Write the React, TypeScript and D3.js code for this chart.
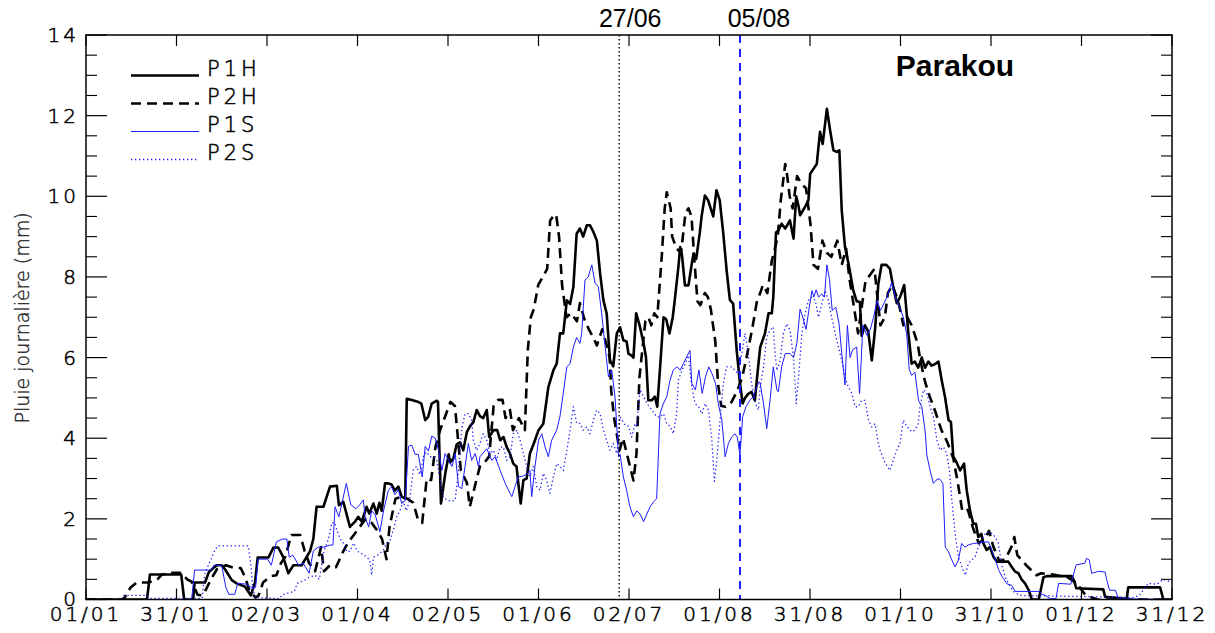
import React from "react";
import * as d3 from "d3";

// Daily rainfall climatology for Parakou, four periods (day of year, mm/day)
const P1H: [number, number][] = [
  [0,0],[20.5,0],[21.5,0.62],[32,0.62],[33,0],[36,0],[36.5,0.42],[40,0.42],[41.3,0.68],[43.9,0.85],[45.6,0.85],[46.7,0.75],[49,0.48],[50.6,0.4],[53.4,0.32],[55.4,0.1],[56.8,0.42],[57.7,1.04],[61.3,1.04],[63,1.29],[64.6,1.29],[66.3,1.05],[68,0.65],[69.7,0.85],[72.5,0.85],[75.3,1.2],[76.4,1.5],[77.5,2.3],[79.8,2.3],[82,2.8],[84.3,2.82],[85,2.34],[86.5,2.42],[88.7,1.8],[90.4,1.93],[91.5,2.05],[92.7,1.93],[94.3,2.3],[95.2,2.13],[96.6,2.38],[97.7,2.13],[98.6,2.4],[99.4,2.2],[100.5,2.88],[101.6,2.88],[102.7,2.85],[103.8,2.7],[105,2.8],[106.1,2.55],[107.3,2.5],[107.8,4.98],[109.5,4.95],[111.7,4.9],[112.7,4.86],[114,4.45],[115,4.53],[116.2,4.86],[117.9,4.93],[118.3,4.9],[119.3,2.38],[120.7,3.1],[121.9,3.6],[122.4,3.4],[123.5,3.5],[124.6,3.85],[125.7,3.9],[126.8,3.7],[128,4.15],[129.1,4.3],[130.2,4.4],[131.3,4.7],[132.4,4.55],[133.5,4.5],[134.7,4.7],[135.5,4.03],[137,4.2],[138.2,4.2],[139.2,3.95],[140.3,4.03],[141.4,3.78],[142.5,3.62],[143.6,3.37],[144.7,3.3],[145.3,2.88],[146.1,2.38],[147,2.96],[148.1,3.0],[149.2,3.62],[150.5,3.87],[152.1,4.2],[153.7,4.36],[155.4,5.27],[157.1,5.69],[158.2,5.85],[159.3,6.6],[160.4,6.6],[161.6,7.42],[162.7,7.33],[163.8,7.75],[164.9,9.07],[166,9.2],[167.1,9.0],[168.3,9.28],[169.4,9.28],[170.5,9.12],[171.7,8.9],[172.8,8.08],[173.9,7.42],[175,7.09],[176.1,5.94],[177.2,5.78],[178.4,6.6],[179.5,6.75],[180.6,6.43],[181.7,6.4],[182.3,6.1],[183.4,6.05],[184,6.0],[184.9,7.1],[186.2,6.76],[187.4,6.35],[188.2,6.02],[189,4.94],[190.1,4.94],[191.2,5.03],[192,4.78],[193.2,6.02],[194.1,7.0],[195,6.95],[196.1,6.6],[197.2,7.0],[198,7.5],[199.1,8.25],[199.7,8.74],[200.3,8.55],[201.3,7.79],[202.5,7.79],[203.6,8.33],[204.2,8.58],[205.1,8.45],[206.3,9.1],[206.9,9.5],[208,10.02],[209.1,9.9],[210.8,9.5],[211.9,10.15],[213,9.9],[214.2,9.07],[215.3,8.17],[216.4,7.43],[217.5,7.34],[218.7,6.18],[219.8,5.36],[220.7,4.86],[221.5,5.0],[222.6,5.1],[223.7,5.15],[224.8,4.94],[225.9,5.77],[226.6,6.26],[228.2,6.6],[229.4,7.1],[230.5,7.1],[231,7.5],[231.9,9.1],[232.7,9.15],[233.8,9.32],[235,9.2],[236.6,9.4],[237.8,8.95],[238.7,10.0],[239.5,9.75],[240,9.53],[241.7,9.74],[242.8,9.9],[243.4,10.56],[244.5,10.68],[245.6,10.8],[246.7,11.6],[247.6,11.3],[249,12.17],[250.1,11.63],[251.2,11.14],[252.3,11.1],[253.2,11.14],[254,9.65],[255.1,8.74],[256.3,8.32],[257.9,7.66],[259,7.4],[260.1,7.38],[260.7,6.54],[261.8,6.8],[262.9,6.65],[264.1,5.93],[265.2,6.7],[266.3,7.83],[267.4,8.3],[269,8.3],[270.2,8.2],[271.3,7.75],[272.5,7.35],[273.6,7.5],[275,7.8],[276.4,6.6],[277.5,5.85],[278.6,5.9],[279.7,5.75],[280.9,6.0],[282,5.75],[283.1,5.9],[284.2,5.8],[285.4,5.84],[286.5,5.9],[287.6,5.44],[288.7,5.03],[289.9,4.45],[290.7,4.4],[291.5,3.54],[292.6,3.4],[293.8,3.2],[295.1,3.37],[296,2.71],[297.1,2.21],[298.2,1.88],[299.1,1.88],[299.9,1.55],[300.9,1.63],[301.6,1.39],[302.7,1.23],[303.8,1.3],[305,1.06],[306.1,0.94],[310,0.94],[311.1,0.81],[312.3,0.69],[313.4,0.65],[314.5,0.49],[315.6,0.4],[316.8,0.24],[317.9,0],[320.2,0],[321.8,0.55],[322.9,0.58],[331.3,0.58],[332.2,0.45],[332.8,0.28],[341.9,0.25],[342.5,0.07],[349.8,0.02],[350.3,0.3],[361,0.3],[362.1,0],[365,0],
];

const P2H: [number, number][] = [
  [0,0],[12,0],[13,0.05],[15,0.3],[17,0.42],[21,0.42],[24,0.5],[25.5,0.62],[29,0.66],[32,0.66],[34,0.5],[35.5,0.44],[37.5,0.12],[39,0.1],[40,0.2],[42,0.5],[44,0.75],[47,0.85],[50,0.78],[52,0.78],[53.5,0.55],[55,0.2],[57,0.05],[58,0.1],[59.5,0.42],[62,0.58],[64,0.6],[65.5,0.9],[67,1.06],[69,1.6],[72,1.6],[73.5,1.2],[75,0.9],[77,0.7],[79,1.3],[80,0.7],[82,0.85],[84,0.8],[86.5,1.2],[88,1.4],[90,1.6],[92,1.8],[94,2.0],[96,1.9],[98,1.7],[99.5,1.5],[101,1.0],[102,1.8],[104,2.5],[106,2.55],[108,2.5],[110,2.4],[111.5,2.0],[113,1.9],[114.5,3.0],[116,2.96],[117.5,3.8],[119,4.2],[120.5,4.5],[122.5,4.9],[124,4.8],[125,4.0],[126,3.2],[128,2.9],[129,2.3],[130,2.6],[131,2.9],[132.4,3.3],[134,3.4],[135.5,3.55],[137,4.8],[138.5,4.95],[140,4.95],[141,4.5],[142.5,4.7],[143.5,4.2],[145.5,4.5],[147.5,4.2],[148.5,6.2],[149.5,7.0],[150.5,7.2],[152,7.8],[153.5,8.0],[155,8.2],[156,9.4],[157,9.5],[158,9.55],[159,9.0],[160,7.8],[161.5,7.0],[163,7.1],[165,6.9],[166,7.35],[167.5,6.95],[169,6.7],[170.5,6.5],[171.7,6.3],[173.5,6.7],[175,6.3],[176,6.0],[176.5,5.2],[177.5,4.5],[178.4,4.1],[179.3,3.7],[180.5,4.0],[182.5,3.4],[184,2.95],[185,3.6],[186,5.5],[188,6.9],[189,7.0],[190,6.8],[191,7.1],[192,7.0],[193.5,8.5],[194.5,9.7],[195.2,10.1],[196.5,9.7],[197,9.0],[198.5,8.7],[200,8.6],[201.5,9.6],[202.5,9.7],[203.5,9.5],[204.5,8.4],[205.5,7.4],[206.5,7.3],[208,7.6],[209,7.5],[210,7.2],[211.5,6.4],[212.5,5.3],[213.5,4.8],[215,4.78],[217,4.9],[219,5.2],[220.5,5.5],[222,6.0],[224,6.75],[225.5,7.4],[226.6,7.6],[227.5,7.8],[229,7.6],[230.5,8.4],[232.5,9.0],[233.5,9.9],[235,10.8],[235.5,10.6],[236.5,10.0],[237.5,9.7],[239,10.5],[240.5,10.3],[242,10.2],[243.5,9.3],[244.5,8.3],[246,8.2],[247.5,8.9],[249,8.6],[250.5,8.5],[252.5,8.9],[254,8.3],[255.5,8.7],[256.5,8.0],[258,7.3],[259.5,6.6],[261,7.4],[262,7.9],[263.5,8.05],[265,8.2],[266,7.5],[267,6.8],[268.5,7.0],[269.5,7.6],[271,7.8],[272.5,7.5],[273.6,7.2],[274.7,6.8],[276,7.0],[277.5,6.8],[279.5,6.35],[280.5,5.9],[282,5.4],[283.5,5.05],[285.5,4.65],[287.5,4.2],[289.5,3.9],[291.5,3.5],[293,2.9],[294.5,2.2],[296,2.25],[296.5,2.2],[298,1.8],[300,1.4],[302,1.5],[303.5,1.7],[305,1.3],[307,0.95],[309,1.0],[311,1.3],[312,1.55],[313,1.1],[316,0.85],[319.5,0.6],[321,0.65],[325,0.62],[330,0.55],[333,0.4],[336,0.1],[338,0.05],[340,0],[365,0],
];

const P1S: [number, number][] = [
  [0,0],[35.5,0],[36.5,0.73],[42,0.73],[43,0.85],[45.6,0.85],[47,0.3],[48,0.13],[50,0.13],[51,0.4],[54,0.38],[55.5,0.3],[57,0.3],[57.8,1.0],[61,1.0],[62.3,0.85],[64,1.43],[66,1.5],[67.5,1.5],[68.3,1.05],[69.5,1.1],[71.5,0.85],[73,0.9],[75,0.65],[76.4,1.2],[78,1.3],[80,1.3],[82,1.35],[83,1.35],[83.7,2.3],[85,2.05],[87.5,2.88],[89,2.35],[90.7,2.25],[92,2.35],[93.2,2.47],[93.8,2.05],[95,1.8],[96,2.2],[97.2,2.1],[98.8,1.68],[100,2.2],[101.6,2.7],[102.7,2.8],[103.8,2.6],[105,2.72],[106.1,2.38],[107.3,2.45],[108.4,3.8],[109.5,3.83],[110.6,3.6],[111.7,3.6],[113,3.04],[114,3.8],[115.1,3.68],[116.2,4.05],[117.4,4.0],[118.5,3.7],[119.6,3.2],[120.7,3.62],[121.9,3.45],[123,3.3],[124.1,3.62],[125.2,2.8],[126.3,2.75],[127.4,3.3],[128.5,3.87],[129.6,3.45],[130.8,3.62],[131.9,3.3],[132.4,3.54],[134.7,3.74],[136.4,3.45],[137.5,3.54],[139.2,3.2],[140.9,2.88],[142,2.71],[143.1,2.55],[144.2,2.8],[145.3,3.05],[146.4,3.05],[148.1,3.1],[149.2,3.2],[149.8,2.55],[150.9,3.3],[152.1,3.95],[153.2,4.11],[154.3,3.78],[155.4,3.54],[156.5,3.95],[158.2,4.2],[159.3,4.54],[160.4,5.11],[161.6,5.77],[162.7,5.85],[163.8,6.26],[164.9,6.5],[166,6.35],[166.6,6.6],[167.7,7.92],[168.8,8.0],[170,8.3],[171.1,7.84],[172.2,7.76],[173.3,7.1],[174.5,6.26],[175.6,5.52],[176.7,5.69],[177.8,5.02],[179,3.54],[179.5,3.6],[180.6,3.04],[181.7,2.71],[182.8,2.3],[184,2.05],[185.1,2.2],[186.2,2.12],[187.4,1.93],[188.5,2.12],[189.6,2.3],[190.7,2.42],[191.8,2.5],[192.9,4.6],[194,4.85],[195.2,5.03],[196.3,5.44],[197.4,5.69],[198.6,5.77],[199.7,5.69],[200.8,5.85],[201.9,6.02],[203,6.18],[203.6,5.36],[204.8,5.2],[206,5.69],[207.1,5.11],[208.2,5.52],[209.3,5.77],[210.4,5.6],[211.6,5.36],[212.5,4.86],[213.7,4.45],[214.8,3.54],[215.9,3.87],[217,4.03],[218.1,4.11],[218.9,4.03],[219.8,3.58],[220.7,4.53],[221.8,4.78],[223.1,4.94],[224.3,5.03],[225.4,5.27],[226.3,5.4],[226.6,5.36],[227.7,4.86],[228.8,4.24],[229.9,4.94],[231,5.77],[232.2,5.2],[232.7,5.15],[233.8,5.77],[235,6.1],[236.6,6.1],[237.8,6.0],[238.9,6.35],[240,7.2],[240.9,7.0],[242,6.7],[243.1,7.25],[244,7.66],[244.6,7.5],[245.4,7.68],[246.2,7.5],[247.3,7.58],[248.2,7.5],[249,8.3],[249.9,7.93],[250.8,7.17],[252,7.25],[253.1,6.84],[254,6.1],[255.1,5.32],[255.9,6.8],[256.8,6.0],[257.7,6.2],[259,6.26],[260,5.11],[261.1,6.8],[262.5,6.55],[263.6,6.7],[264.7,7.0],[265.9,7.42],[267,7.17],[268.1,7.33],[269.2,7.5],[270.8,7.87],[272,7.5],[273.4,7.25],[274.7,7.0],[275.8,6.6],[276.7,5.7],[277.5,5.56],[278.6,5.64],[279.8,4.94],[280.9,4.78],[282,4.2],[282.6,3.58],[283.7,3.2],[284.8,2.88],[285.7,2.96],[286.8,3.0],[288,2.88],[288.8,1.3],[289.9,1.18],[291,0.98],[292.1,0.81],[293.2,0.98],[294.3,1.39],[295.4,1.3],[296.5,1.35],[298.2,1.39],[299.9,1.4],[301.6,1.42],[303.3,1.43],[304.4,1.23],[305.6,1.0],[306.7,0.74],[307.8,0.58],[309.5,0.39],[311.1,0.35],[312.3,0.2],[320.5,0.2],[321.2,0.13],[322.5,0.1],[324,0.02],[326,0.02],[326.9,0.4],[331,0.38],[332.8,0.86],[335.7,0.9],[336.3,1.02],[337.2,0.98],[338,0.65],[340.3,0.7],[342.5,0.68],[343.1,0.48],[344,0.23],[346,0.23],[347,0.02],[365,0],
];

const P2S: [number, number][] = [
  [0,0],[12,0],[12.6,0.1],[20.4,0.1],[21.5,0.03],[39,0.03],[40,0.65],[42,1.0],[43.5,1.25],[44.4,1.33],[54.5,1.33],[55,1.1],[55.5,0.8],[56,0.3],[56.8,0.05],[65,0.02],[66,0.12],[70,0.2],[71,0.4],[73.5,0.48],[75,0.55],[77,0.6],[78.4,0.5],[80,1.2],[81.5,1.5],[82.6,1.9],[83.7,1.9],[84.3,1.72],[85.5,1.5],[86.5,1.4],[87.6,1.18],[88.7,1.2],[90,1.4],[91.1,1.2],[93.5,1.1],[95.4,0.98],[96,0.61],[96.6,1.05],[98,1.1],[99.9,1.22],[101,1.4],[102.2,1.47],[103.3,1.72],[104.4,2.05],[105.5,2.2],[106.6,2.43],[107.7,2.2],[108.8,2.47],[110,3.21],[111.1,3.3],[112.2,3.1],[113.4,3.54],[114.5,3.66],[115.6,3.54],[116.7,3.54],[117.9,3.45],[119.4,2.8],[120.1,2.55],[121.2,2.47],[123,2.43],[124.1,2.47],[125.2,3.21],[126.3,4.24],[127.4,4.61],[128.5,4.61],[129.6,4.45],[130.2,3.95],[131.3,3.7],[132.4,3.87],[133.5,4.11],[134.7,3.95],[135.8,3.62],[137,3.7],[138,3.45],[139.2,3.78],[140.3,3.78],[141.4,3.45],[142.5,3.54],[143.6,4.11],[144.8,4.2],[145.9,3.95],[147,3.62],[148.1,3.3],[149.2,3.05],[150.3,3.3],[151.5,2.8],[152.6,2.71],[153.7,3.13],[154.8,2.96],[155.9,2.63],[157.1,3.05],[158.2,3.37],[159.3,3.3],[160.4,3.2],[161.6,3.7],[162.7,4.2],[163.8,4.78],[164.9,4.37],[166,4.37],[167.1,4.2],[168.3,4.28],[169.4,4.11],[170.5,4.45],[171.7,4.7],[172.8,4.61],[173.9,4.2],[175,3.95],[176.1,3.7],[177.2,3.87],[178.4,3.62],[179.5,4.53],[181.2,4.32],[182.3,4.3],[183.4,4.03],[184.5,4.36],[185.1,4.28],[186.2,5.2],[187.4,5.03],[188.5,4.86],[190.2,4.7],[191.8,4.53],[193,4.53],[194.1,4.61],[195.2,4.36],[196.3,4.3],[197.4,4.11],[198.5,4.6],[199.1,5.44],[200.3,5.69],[201.4,5.85],[202.5,6.05],[203.6,5.27],[204.7,4.86],[205.9,4.78],[207,4.61],[208.1,4.86],[209.2,4.7],[210.3,4.0],[211.2,2.93],[211.9,3.37],[213,4.36],[214.2,5.36],[215.3,5.77],[217,5.77],[218.1,5.69],[219.2,5.6],[220.4,6.1],[221.5,6.6],[222.6,6.1],[223.7,5.36],[225,4.86],[226,4.7],[226.6,5.27],[227.7,5.77],[228.8,6.51],[229.9,6.68],[231,6.76],[231.6,6.1],[232.2,5.68],[233.3,5.93],[234.4,6.6],[235.5,6.84],[236.6,6.68],[237.8,6.0],[238.7,4.86],[239.5,5.52],[240.6,6.6],[241.7,7.09],[242.8,7.42],[243.9,7.5],[245.1,7.42],[246.2,7.0],[247.3,7.33],[248.4,7.67],[249.5,7.42],[250.6,7.0],[251.8,6.6],[252.9,6.26],[254,5.93],[255.1,5.52],[256.2,5.27],[257.4,5.11],[258.5,4.78],[259.6,4.78],[260.7,4.94],[261.8,4.94],[263,4.45],[264.1,4.28],[265.2,4.36],[266.3,3.87],[266.9,3.7],[268.5,3.4],[270.2,3.2],[271.5,3.5],[272.5,3.7],[273.6,3.87],[274.7,4.45],[275.8,4.3],[277.5,4.16],[278.6,4.2],[279.7,4.36],[280.3,4.78],[281.5,5.2],[282.6,5.12],[283.7,4.78],[284.8,4.53],[286,3.95],[287.1,3.7],[288.2,3.78],[289.3,3.62],[290.2,3.2],[291,2.46],[292.1,1.64],[293.2,1.06],[294.4,0.81],[295.5,0.6],[296.6,0.9],[297.7,0.98],[298.8,1.06],[299.9,1.3],[301.1,1.45],[302.2,1.64],[303.3,1.68],[304.4,1.64],[305.5,1.56],[306.6,1.4],[307.8,0.85],[308.9,0.57],[310,0.4],[311.7,0.2],[313.9,0.1],[352,0.05],[354,0.1],[355,0.2],[357,0.4],[360,0.38],[362,0.5],[364,0.45],[365,0.45],
];

const seriesNames = ["P1H", "P2H", "P1S", "P2S"];
const xTickLabels = ["01/01", "31/01", "02/03", "01/04", "02/05", "01/06", "02/07", "01/08", "31/08", "01/10", "31/10", "01/12", "31/12"];
const yTickValues = [0, 2, 4, 6, 8, 10, 12, 14];
const markerLabels = ["27/06", "05/08"];
const markerDays = [179.2, 219.8];
const stationName = "Parakou";
const yTitle = "Pluie journalière (mm)";

const W = 1215;
const H = 633;
const X0 = 86;
const X1 = 1172;
const Y0 = 599.5;
const Y1 = 35;
const BLUE = "#1c1cff";
const THIN_FONT = "'DejaVu Sans', 'Liberation Sans', sans-serif";

// thin plotter-style lettering used for axes and legend
const thinText = {
  fontFamily: THIN_FONT,
  fontWeight: 200,
  fill: "#000",
  stroke: "#000",
  strokeWidth: 0.55,
} as const;

export default function App() {
  const x = d3.scaleLinear().domain([0, 365]).range([X0, X1]);
  const y = d3.scaleLinear().domain([0, 14]).range([Y0, Y1]);
  const line = d3
    .line<[number, number]>()
    .x((d) => x(d[0]))
    .y((d) => y(d[1]));

  const styles = [
    { data: P1H, stroke: "#000", width: 2.6, dash: undefined as string | undefined },
    { data: P2H, stroke: "#000", width: 2.6, dash: "10,6" },
    { data: P1S, stroke: BLUE, width: 1, dash: undefined },
    { data: P2S, stroke: BLUE, width: 1.3, dash: "1.3,2.7" },
  ];

  const xTicks = xTickLabels.map((label, i) => ({ label, day: (i * 365) / (xTickLabels.length - 1) }));
  const yMinor = d3.range(0, 14.001, 0.5).filter((v) => v % 2 !== 0);

  const legendLineY = (i: number) => 75.5 + i * 28;

  return (
    <svg
      width={W}
      height={H}
      viewBox={`0 0 ${W} ${H}`}
      style={{ position: "absolute", left: 0, top: 0, background: "#fff" }}
    >
      <rect x={0} y={0} width={W} height={H} fill="#fff" />
      <defs>
        <clipPath id="plotArea">
          <rect x={X0} y={Y1} width={X1 - X0} height={Y0 - Y1} />
        </clipPath>
      </defs>

      {/* rainfall curves */}
      <g clipPath="url(#plotArea)" fill="none" strokeLinejoin="round">
        {styles.map((s, i) => (
          <path
            key={seriesNames[i]}
            d={line(s.data) ?? ""}
            stroke={s.stroke}
            strokeWidth={s.width}
            strokeDasharray={s.dash}
          />
        ))}
      </g>

      {/* onset / retreat markers */}
      <line
        x1={x(markerDays[0])}
        x2={x(markerDays[0])}
        y1={Y1}
        y2={Y0}
        stroke="#000"
        strokeWidth={1.4}
        strokeDasharray="1.4,2.6"
      />
      <line
        x1={x(markerDays[1])}
        x2={x(markerDays[1])}
        y1={Y1}
        y2={Y0}
        stroke={BLUE}
        strokeWidth={2}
        strokeDasharray="8,6"
      />
      {markerLabels.map((lab, i) => (
        <text
          key={lab}
          x={x(markerDays[i]) + (i === 0 ? 11 : 19)}
          y={27}
          textAnchor="middle"
          fontFamily="'Liberation Sans', Arial, sans-serif"
          fontSize={25}
          fill="#000"
        >
          {lab}
        </text>
      ))}

      {/* frame */}
      <rect x={X0} y={Y1} width={X1 - X0} height={Y0 - Y1} fill="none" stroke="#000" strokeWidth={1.5} />

      {/* x ticks, bottom and top */}
      {xTicks.map((t) => (
        <g key={t.label}>
          <line x1={x(t.day)} x2={x(t.day)} y1={Y0} y2={Y0 - 11} stroke="#000" strokeWidth={1.2} />
          <line x1={x(t.day)} x2={x(t.day)} y1={Y1} y2={Y1 + 11} stroke="#000" strokeWidth={1.2} />
          <text
            {...thinText}
            x={x(t.day)}
            y={621}
            textAnchor="middle"
            fontSize={20}
            letterSpacing={3}
          >
            {t.label}
          </text>
        </g>
      ))}

      {/* y ticks, left and right */}
      {yTickValues.map((v) => (
        <g key={v}>
          <line x1={X0} x2={X0 + 21} y1={y(v)} y2={y(v)} stroke="#000" strokeWidth={1.2} />
          <line x1={X1} x2={X1 - 21} y1={y(v)} y2={y(v)} stroke="#000" strokeWidth={1.2} />
          <text
            {...thinText}
            x={79}
            y={y(v)}
            dy={v === 0 ? "0.3em" : "0.36em"}
            textAnchor="end"
            fontSize={20}
            letterSpacing={3}
          >
            {v}
          </text>
        </g>
      ))}
      {yMinor.map((v) => (
        <g key={`m${v}`}>
          <line x1={X0} x2={X0 + 11} y1={y(v)} y2={y(v)} stroke="#000" strokeWidth={1.1} />
          <line x1={X1} x2={X1 - 11} y1={y(v)} y2={y(v)} stroke="#000" strokeWidth={1.1} />
        </g>
      ))}

      {/* y axis title */}
      <text
        {...thinText}
        fill="#222"
        stroke="#222"
        strokeWidth={0.35}
        transform={`translate(28.5,318) rotate(-90)`}
        textAnchor="middle"
        fontSize={19}
      >
        {yTitle}
      </text>

      {/* station name */}
      <text
        x={955}
        y={76}
        textAnchor="middle"
        fontFamily="'Liberation Sans', Arial, sans-serif"
        fontWeight="bold"
        fontSize={30}
        fill="#000"
      >
        {stationName}
      </text>

      {/* legend */}
      {styles.map((s, i) => (
        <g key={`leg${i}`}>
          <line
            x1={131}
            x2={199}
            y1={legendLineY(i)}
            y2={legendLineY(i)}
            stroke={s.stroke}
            strokeWidth={s.width}
            strokeDasharray={s.dash}
          />
          <text
            {...thinText}
            x={207}
            y={legendLineY(i) + 0.5}
            fontSize={21}
            letterSpacing={4}
          >
            {seriesNames[i]}
          </text>
        </g>
      ))}
    </svg>
  );
}
